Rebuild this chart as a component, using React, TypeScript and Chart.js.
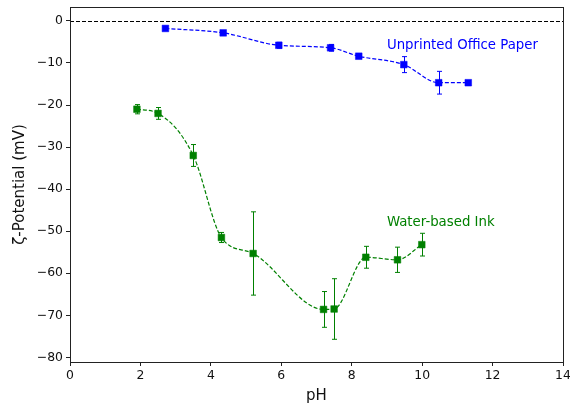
import React, { useEffect, useRef } from "react";
import { Chart, registerables } from "chart.js";

Chart.register(...registerables);

const paperPH = [2.71, 4.35, 5.93, 7.4, 8.2, 9.48, 10.47, 11.31];
const paperZeta = [-1.8, -2.85, -5.8, -6.4, -8.4, -10.4, -14.7, -14.7];
const paperErr = [0.3, 0.4, 0.7, 0.8, 0.4, 1.9, 2.7, 0.3];

const inkPH = [1.9, 2.5, 3.5, 4.3, 5.2, 7.2, 7.5, 8.4, 9.3, 9.99];
const inkZeta = [-21.0, -22.0, -32.0, -51.5, -55.3, -68.6, -68.5, -56.2, -56.8, -53.2];
const inkErr = [1.1, 1.4, 2.6, 1.2, 9.9, 4.25, 7.2, 2.6, 3.0, 2.7];

const xTicks = [0, 2, 4, 6, 8, 10, 12, 14];
const yTicks = [-80, -70, -60, -50, -40, -30, -20, -10, 0];

const labels = [
  { text: "Unprinted Office Paper", x: 9.0, y: -5.8, color: "blue" },
  { text: "Water-based Ink", x: 9.0, y: -48.0, color: "green" },
];

const FONT = "'DejaVu Sans', sans-serif";

const errorBarPlugin = {
  id: "errorBars",
  beforeDatasetsDraw(chart: any) {
    const { ctx, scales } = chart;
    const xs = scales.x;
    const ys = scales.y;
    ctx.save();
    ctx.strokeStyle = "black";
    ctx.lineWidth = 1;
    ctx.setLineDash([4, 2]);
    const y0 = Math.round(ys.getPixelForValue(0)) + 0.5;
    ctx.beginPath();
    ctx.moveTo(chart.chartArea.left, y0);
    ctx.lineTo(chart.chartArea.right, y0);
    ctx.stroke();
    ctx.restore();

    chart.data.datasets.forEach((ds: any) => {
      const errs: number[] = ds.errors || [];
      ctx.save();
      ctx.strokeStyle = ds.borderColor;
      ctx.lineWidth = 1;
      ctx.setLineDash([]);
      ds.data.forEach((p: any, i: number) => {
        const e = errs[i];
        if (!e) return;
        const px = Math.round(xs.getPixelForValue(p.x)) + 0.5;
        const top = ys.getPixelForValue(p.y + e);
        const bot = ys.getPixelForValue(p.y - e);
        ctx.beginPath();
        ctx.moveTo(px, top);
        ctx.lineTo(px, bot);
        ctx.moveTo(px - 2.5, top);
        ctx.lineTo(px + 2.5, top);
        ctx.moveTo(px - 2.5, bot);
        ctx.lineTo(px + 2.5, bot);
        ctx.stroke();
      });
      ctx.restore();
    });
  },
  afterDraw(chart: any) {
    const { ctx, chartArea, scales } = chart;
    ctx.save();
    ctx.setLineDash([]);
    ctx.strokeStyle = "#222";
    ctx.lineWidth = 1;
    ctx.strokeRect(
      Math.round(chartArea.left) + 0.5,
      Math.round(chartArea.top) + 0.5,
      Math.round(chartArea.right - chartArea.left),
      Math.round(chartArea.bottom - chartArea.top)
    );
    ctx.font = `13.3px ${FONT}`;
    ctx.textBaseline = "middle";
    ctx.textAlign = "left";
    labels.forEach((l) => {
      ctx.fillStyle = l.color;
      ctx.fillText(l.text, scales.x.getPixelForValue(l.x), scales.y.getPixelForValue(l.y));
    });
    ctx.restore();
  },
};

const fmt = (v: any) => String(v).replace("-", "\u2212");

export default function App() {
  const ref = useRef<HTMLCanvasElement>(null);
  useEffect(() => {
    document.body.style.margin = "0";
    const chart = new Chart(ref.current!, {
      type: "scatter",
      data: {
        datasets: [
          {
            data: paperPH.map((x, i) => ({ x, y: paperZeta[i] })),
            errors: paperErr,
            borderColor: "blue",
            backgroundColor: "blue",
            showLine: true,
            borderDash: [4, 2],
            borderWidth: 1.2,
            cubicInterpolationMode: "monotone",
            pointStyle: "rect",
            pointRadius: 4.7,
            pointBorderWidth: 0.5,
          } as any,
          {
            data: inkPH.map((x, i) => ({ x, y: inkZeta[i] })),
            errors: inkErr,
            borderColor: "green",
            backgroundColor: "green",
            showLine: true,
            borderDash: [4, 2],
            borderWidth: 1.2,
            cubicInterpolationMode: "monotone",
            pointStyle: "rect",
            pointRadius: 4.7,
            pointBorderWidth: 0.5,
          } as any,
        ],
      },
      options: {
        animation: false,
        responsive: false,
        devicePixelRatio: 1,
        layout: { autoPadding: false, padding: { left: 0, top: 7, right: 7, bottom: 0 } },
        plugins: { legend: { display: false }, tooltip: { enabled: false } },
        scales: {
          x: {
            type: "linear",
            min: 0,
            max: 14,
            afterBuildTicks: (s: any) => {
              s.ticks = xTicks.map((v) => ({ value: v }));
            },
            afterFit: (s: any) => {
              s.height = 44;
              s.paddingLeft = 0;
              s.paddingRight = 0;
            },
            grid: { drawOnChartArea: false, drawTicks: true, tickLength: 4, tickColor: "#222" },
            border: { display: false },
            ticks: { color: "#111", font: { family: FONT, size: 12.4 }, padding: 2, maxRotation: 0, callback: fmt },
            title: { display: true, text: "pH", color: "#111", font: { family: FONT, size: 15 }, padding: { top: 0, bottom: 1 } },
          },
          y: {
            type: "linear",
            min: -81.1,
            max: 3.3,
            afterBuildTicks: (s: any) => {
              s.ticks = yTicks.map((v) => ({ value: v }));
            },
            afterFit: (s: any) => {
              s.width = 70;
              s.paddingTop = 0;
              s.paddingBottom = 0;
            },
            grid: { drawOnChartArea: false, drawTicks: true, tickLength: 4, tickColor: "#222" },
            border: { display: false },
            ticks: { color: "#111", font: { family: FONT, size: 12.4 }, padding: 3, callback: fmt },
            title: { display: true, text: "ζ-Potential (mV)", color: "#111", font: { family: FONT, size: 15 }, padding: { top: 11, bottom: 0 } },
          },
        },
      },
      plugins: [errorBarPlugin],
    } as any);
    return () => chart.destroy();
  }, []);
  return <canvas ref={ref} width={570} height={406} style={{ display: "block" }} />;
}
